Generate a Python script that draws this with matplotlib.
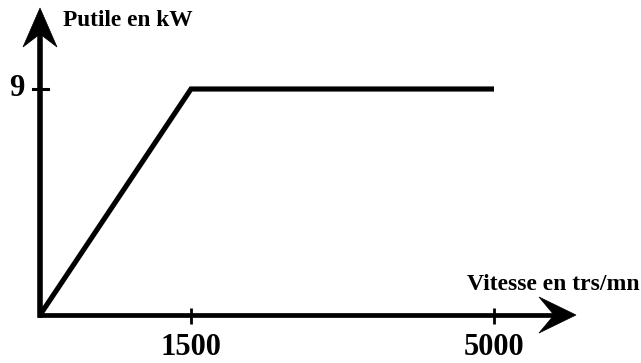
import numpy as np
import matplotlib
matplotlib.use("Agg")
import matplotlib.pyplot as plt
from matplotlib.patches import Polygon

# Data (schematic power curve)
speed = [0, 1500, 5000]          # trs/mn
power = [0, 9, 9]                # kW
x_ticks = [1500, 5000]
x_tick_labels = ["1500", "5000"]
y_ticks = [9]
y_tick_labels = ["9"]
x_label = "Vitesse en trs/mn"
y_label = "Putile en kW"

W, H = 641, 363
fig = plt.figure(figsize=(W / 100, H / 100), dpi=100)
fig.patch.set_facecolor("white")

# Schematic (non-proportional) x scale: piecewise-linear mapping
bp = np.array([0.0, 1500.0, 5000.0])
pp = np.array([0.0, 151.0, 454.0])


def fwd(x):
    x = np.asarray(x, dtype=float)
    y = np.interp(x, bp, pp)
    s0 = (pp[1] - pp[0]) / (bp[1] - bp[0])
    s1 = (pp[-1] - pp[-2]) / (bp[-1] - bp[-2])
    y = np.where(x < bp[0], pp[0] + (x - bp[0]) * s0, y)
    y = np.where(x > bp[-1], pp[-1] + (x - bp[-1]) * s1, y)
    return y


def inv(p):
    p = np.asarray(p, dtype=float)
    x = np.interp(p, pp, bp)
    s0 = (bp[1] - bp[0]) / (pp[1] - pp[0])
    s1 = (bp[-1] - bp[-2]) / (pp[-1] - pp[-2])
    x = np.where(p < pp[0], bp[0] + (p - pp[0]) * s0, x)
    x = np.where(p > pp[-1], bp[-1] + (p - pp[-1]) * s1, x)
    return x


ox, oy = 40.0, 315.0       # origin in pixels (from top-left)
y9 = 89.0
ppu = (oy - y9) / 9.0      # pixels per kW

ax = fig.add_axes([0, 0, 1, 1])
ax.set_xscale("function", functions=(fwd, inv))
ax.set_xlim(float(inv(-ox)), float(inv(W - ox)))
ax.set_ylim(-(H - oy) / ppu, oy / ppu)
ax.axis("off")

serif = "Liberation Serif"

# Data curve
ax.plot(speed, power, color="black", lw=3.7, solid_joinstyle="miter",
        solid_capstyle="butt", clip_on=False, zorder=3)


def fig_pt(px, py):
    return (px / W, 1 - py / H)


# Axes lines
ax.add_line(plt.Line2D([ox / W, 560 / W], [1 - oy / H, 1 - oy / H],
                       transform=fig.transFigure, color="black", lw=3.4,
                       solid_capstyle="projecting"))
ax.add_line(plt.Line2D([ox / W, ox / W], [1 - oy / H, 1 - 30 / H],
                       transform=fig.transFigure, color="black", lw=4.0,
                       solid_capstyle="projecting"))

# Arrowheads
xhead = [fig_pt(576, oy), fig_pt(539, 297), fig_pt(554, oy), fig_pt(539, 333)]
yhead = [fig_pt(ox, 8), fig_pt(23, 47), fig_pt(ox, 34), fig_pt(57, 47)]
for pts in (xhead, yhead):
    fig.patches.append(Polygon(pts, closed=True, transform=fig.transFigure,
                               facecolor="black", edgecolor="black", lw=0.5))

# Ticks
for xv, lab in zip(x_ticks, x_tick_labels):
    ax.plot([xv, xv], [-(324 - oy) / ppu, (oy - 308) / ppu], color="black",
            lw=2.0, clip_on=False, solid_capstyle="butt")
    ax.annotate(lab, xy=(xv, 0), xytext=(0, -(333 - oy)), textcoords="offset pixels",
                ha="center", va="top", fontsize=22, fontweight="bold",
                family=serif)

for yv, lab in zip(y_ticks, y_tick_labels):
    ax.add_line(plt.Line2D([33 / W, 48 / W], [1 - y9 / H, 1 - y9 / H],
                           transform=fig.transFigure, color="black", lw=2.2))
    fig.text(17 / W, 1 - y9 / H, lab, ha="center", va="center", fontsize=22,
             fontweight="bold", family=serif)

# Axis titles
fig.text(63 / W, 1 - 21 / H, y_label, ha="left", va="center", fontsize=16.8,
         fontweight="bold", family=serif)
fig.text(640 / W, 1 - 285 / H, x_label, ha="right", va="center", fontsize=17,
         fontweight="bold", family=serif)

fig.savefig("out.png", dpi=100, facecolor="white")
